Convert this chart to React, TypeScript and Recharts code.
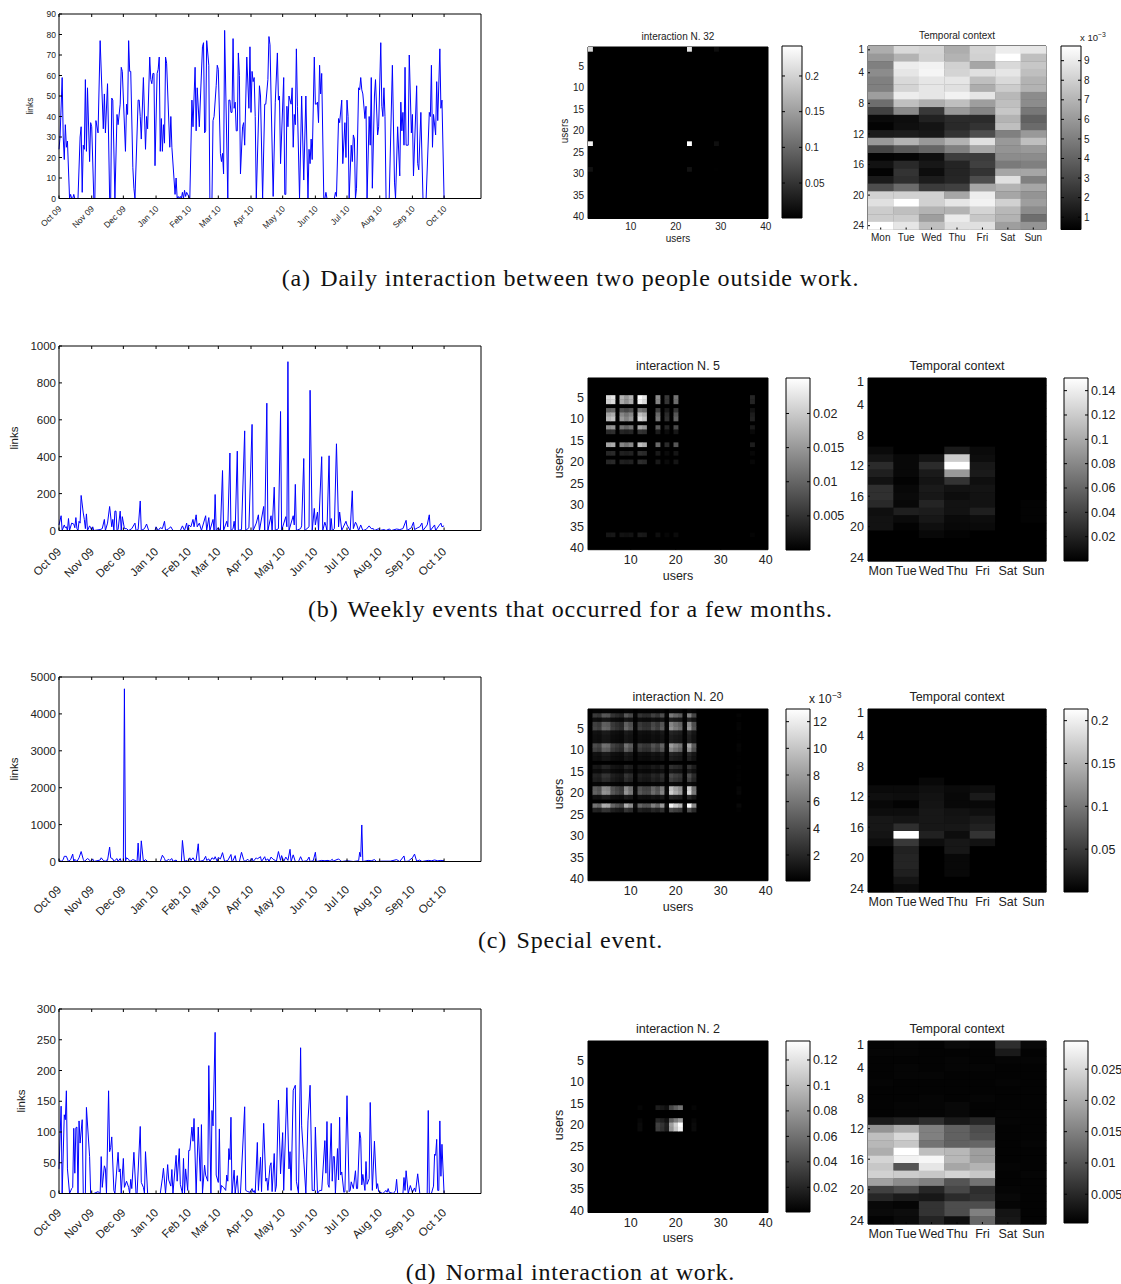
import { Bar, BarChart, CartesianGrid, Line, LineChart, Scatter, ScatterChart, XAxis, YAxis } from "recharts";

const monthDays = [0, 31, 61, 92, 123, 151, 182, 212, 243, 273, 304, 335, 365];
const monthLabels = ["Oct 09", "Nov 09", "Dec 09", "Jan 10", "Feb 10", "Mar 10", "Apr 10", "May 10", "Jun 10", "Jul 10", "Aug 10", "Sep 10", "Oct 10"];
const weekDays = ["Mon", "Tue", "Wed", "Thu", "Fri", "Sat", "Sun"];
const userTicksX = [10, 20, 30, 40];
const userTicksY = [5, 10, 15, 20, 25, 30, 35, 40];
const hourTicks = [1, 4, 8, 12, 16, 20, 24];

// [day, links]
const linksA = [[0,24],[1,30],[3,59],[4,30],[5,19],[6,36],[7,25],[8,28],[10,0],[11,2],[12,0],[13,0],[14,2],[15,0],[18,0],[20,30],[21,35],[22,3],[23,26],[24,24],[25,58],[26,23],[27,54],[29,18],[30,37],[31,35],[33,0],[34,0],[35,38],[37,32],[39,77],[42,34],[43,51],[44,32],[46,56],[47,30],[48,0],[49,0],[50,49],[51,48],[53,0],[55,41],[56,36],[58,46],[59,64],[60,62],[63,23],[64,46],[65,41],[66,77],[67,62],[68,62],[70,15],[71,5],[72,0],[75,48],[76,48],[77,40],[78,29],[80,59],[82,24],[83,40],[84,34],[86,69],[87,58],[88,56],[89,61],[90,61],[91,16],[93,61],[94,63],[95,69],[96,23],[97,39],[98,23],[99,36],[100,27],[101,69],[102,66],[105,25],[106,40],[107,25],[110,2],[111,10],[112,0],[113,1],[114,0],[115,1],[116,0],[117,3],[118,0],[119,4],[120,1],[121,3],[124,0],[126,48],[127,35],[129,64],[130,33],[131,54],[133,35],[136,74],[137,76],[138,32],[139,33],[140,77],[142,65],[143,0],[145,0],[146,38],[147,40],[149,55],[150,65],[151,63],[153,22],[154,18],[155,22],[156,12],[157,82],[160,0],[161,48],[162,48],[163,42],[164,42],[165,78],[166,44],[167,47],[168,33],[169,33],[170,71],[171,60],[172,12],[174,35],[175,37],[176,26],[178,69],[180,44],[181,74],[182,42],[183,62],[184,57],[185,59],[186,40],[187,0],[190,55],[191,50],[193,0],[195,46],[196,46],[198,58],[199,79],[200,75],[201,50],[203,1],[205,47],[207,71],[208,48],[209,50],[210,17],[213,59],[214,2],[215,2],[216,45],[217,35],[218,50],[220,46],[221,54],[222,25],[223,41],[224,36],[225,73],[226,45],[228,0],[230,50],[232,9],[234,50],[236,0],[237,24],[238,17],[239,29],[240,19],[242,69],[243,46],[244,46],[245,47],[246,37],[247,65],[248,51],[249,61],[251,0],[252,0],[253,3],[254,0],[261,0],[262,3],[263,1],[265,39],[266,37],[268,48],[269,17],[271,37],[272,20],[273,48],[274,40],[275,0],[277,26],[278,18],[279,31],[280,29],[281,0],[282,5],[284,54],[285,53],[286,59],[287,53],[288,51],[290,39],[291,45],[292,0],[294,40],[295,26],[296,59],[297,5],[299,50],[300,58],[302,31],[303,35],[305,76],[306,45],[307,40],[308,54],[309,40],[310,0],[313,0],[316,65],[318,8],[319,0],[321,35],[323,11],[324,47],[325,33],[326,42],[327,26],[328,64],[329,26],[331,26],[332,70],[334,32],[335,41],[336,11],[339,55],[340,17],[341,14],[343,42],[345,0],[348,0],[351,42],[352,40],[353,65],[354,25],[355,41],[357,31],[358,57],[359,38],[361,73],[362,44],[363,48],[365,0]];
const linksB = [[0,30],[2,80],[3,0],[5,30],[6,15],[7,20],[8,0],[9,65],[10,0],[12,40],[14,35],[15,15],[16,70],[17,10],[18,0],[19,50],[20,40],[21,190],[23,95],[24,60],[25,10],[26,90],[27,0],[29,25],[30,15],[31,0],[32,20],[33,0],[39,5],[41,10],[43,60],[44,0],[46,40],[48,130],[50,20],[51,60],[52,0],[53,105],[54,105],[55,0],[56,5],[58,105],[59,0],[60,75],[62,10],[64,10],[66,0],[69,10],[72,40],[73,0],[75,5],[77,160],[78,0],[81,10],[83,35],[85,0],[91,0],[92,20],[94,0],[96,15],[98,10],[100,50],[101,0],[104,10],[106,20],[108,0],[115,0],[117,25],[119,0],[121,40],[122,0],[123,30],[125,20],[127,60],[128,20],[130,85],[131,20],[133,40],[135,0],[139,80],[140,0],[142,70],[143,0],[146,60],[147,0],[148,195],[149,0],[151,15],[153,0],[155,325],[156,0],[159,50],[160,20],[162,420],[163,0],[165,10],[166,50],[167,0],[169,430],[170,0],[173,5],[176,540],[177,0],[180,15],[183,575],[184,0],[187,40],[189,85],[190,0],[194,130],[195,0],[197,690],[198,0],[201,80],[202,0],[204,235],[205,0],[208,10],[210,645],[211,0],[215,75],[216,20],[217,915],[218,0],[222,80],[223,30],[224,250],[225,0],[229,10],[230,25],[232,390],[233,0],[237,20],[238,760],[240,0],[242,120],[243,30],[245,100],[246,0],[249,400],[250,0],[252,45],[253,25],[254,0],[256,405],[257,0],[258,65],[259,0],[261,10],[263,470],[265,20],[266,100],[268,0],[272,50],[273,30],[276,0],[278,215],[279,10],[281,45],[282,35],[284,0],[286,30],[288,0],[291,5],[294,25],[296,10],[298,10],[299,0],[303,10],[304,0],[308,5],[310,0],[313,8],[315,0],[320,8],[323,5],[326,10],[329,55],[330,0],[334,15],[336,45],[337,5],[340,15],[342,20],[344,40],[345,0],[349,30],[351,85],[352,0],[356,30],[357,0],[360,25],[362,40],[363,20],[365,25]];
const linksC = [[0,50],[2,0],[4,50],[5,140],[7,140],[9,0],[11,50],[13,200],[14,0],[15,60],[17,0],[19,100],[21,270],[23,60],[24,0],[27,80],[29,40],[30,0],[32,70],[33,0],[39,40],[40,100],[42,30],[44,0],[45,40],[46,30],[48,390],[49,100],[51,70],[52,0],[55,80],[56,0],[58,80],[59,0],[61,0],[62,4680],[63,0],[64,100],[66,60],[67,0],[70,50],[72,30],[74,0],[75,500],[76,0],[77,0],[78,560],[80,0],[82,50],[84,0],[96,0],[98,170],[100,80],[101,0],[104,60],[105,30],[107,80],[108,0],[111,40],[112,0],[116,0],[117,570],[119,0],[121,30],[122,0],[124,100],[125,30],[127,100],[129,0],[130,40],[132,480],[133,0],[137,30],[139,140],[140,30],[142,70],[143,0],[145,100],[147,60],[148,130],[150,0],[151,110],[153,70],[155,240],[157,0],[160,30],[163,190],[164,0],[165,30],[167,160],[168,0],[171,0],[173,250],[175,50],[176,0],[179,60],[181,0],[183,90],[184,0],[187,100],[188,70],[191,130],[192,0],[195,130],[196,30],[198,70],[199,0],[201,120],[203,60],[205,30],[206,0],[208,270],[210,30],[211,160],[213,0],[215,120],[217,30],[219,330],[220,0],[222,180],[224,0],[227,0],[229,130],[231,0],[235,20],[237,120],[238,0],[241,20],[243,250],[244,0],[249,30],[252,20],[255,30],[257,10],[259,60],[260,10],[265,70],[266,40],[268,0],[273,20],[279,0],[284,20],[285,250],[286,130],[287,990],[288,0],[293,30],[296,20],[299,50],[301,0],[306,10],[314,10],[320,50],[323,0],[327,150],[328,0],[331,10],[335,100],[337,200],[339,10],[342,40],[344,0],[350,30],[353,20],[356,40],[359,20],[362,30],[365,20]];
const linksD = [[0,40],[2,142],[3,0],[5,128],[6,120],[7,167],[8,40],[10,0],[12,8],[13,10],[14,106],[15,33],[16,107],[17,108],[18,0],[19,118],[20,82],[22,120],[23,0],[25,0],[26,140],[29,60],[30,0],[33,0],[37,3],[39,0],[40,60],[41,10],[43,45],[44,40],[45,0],[47,167],[48,68],[49,75],[50,92],[52,5],[53,0],[56,67],[57,35],[58,40],[59,0],[61,57],[62,10],[64,20],[66,10],[67,0],[68,23],[69,8],[71,67],[73,0],[74,0],[77,109],[78,18],[80,10],[81,0],[82,68],[84,0],[96,0],[98,25],[99,41],[101,0],[103,47],[104,22],[106,12],[107,39],[108,0],[111,62],[112,20],[114,73],[115,15],[117,0],[118,57],[119,0],[120,40],[122,5],[123,70],[124,70],[126,108],[127,85],[128,122],[130,0],[132,108],[134,20],[135,112],[136,0],[138,46],[139,30],[141,20],[142,208],[144,0],[145,135],[146,110],[148,262],[149,30],[151,18],[152,105],[153,0],[154,13],[156,10],[158,5],[159,30],[160,20],[161,73],[162,55],[163,124],[164,0],[166,38],[167,0],[169,29],[170,0],[172,0],[176,141],[177,5],[179,3],[181,2],[183,8],[184,2],[185,5],[186,0],[188,83],[189,5],[191,59],[192,3],[194,114],[196,20],[197,25],[198,5],[200,45],[201,50],[202,3],[204,65],[205,3],[206,12],[208,152],[210,32],[212,99],[213,5],[216,172],[218,40],[219,68],[220,5],[222,168],[224,176],[225,20],[227,0],[229,237],[230,110],[232,55],[234,0],[236,118],[238,176],[240,5],[242,5],[243,108],[245,0],[247,5],[249,5],[252,86],[253,33],[254,117],[255,15],[256,10],[258,114],[259,20],[260,60],[261,60],[262,0],[264,73],[265,22],[266,124],[267,30],[268,35],[270,2],[271,3],[273,159],[275,3],[276,5],[277,19],[279,8],[281,37],[282,8],[283,8],[285,100],[286,90],[287,14],[288,31],[290,5],[291,52],[292,15],[294,24],[295,148],[297,5],[299,85],[301,8],[302,16],[303,3],[307,0],[310,5],[311,2],[312,8],[313,2],[317,0],[319,5],[320,23],[321,0],[326,0],[327,26],[328,5],[329,37],[331,0],[333,13],[335,2],[337,9],[338,3],[340,32],[342,0],[347,0],[349,0],[350,135],[351,0],[353,0],[355,12],[356,64],[357,62],[358,88],[359,5],[360,5],[361,118],[362,28],[363,80],[365,0]];

// user factors: [index, weight]
const usersA = { rows: [[1,0.9],[23,1],[29,0.07]], cols: [[1,0.95],[23,1],[29,0.06]] };
const usersB = {
  rows: [[5,1],[6,0.95],[8,0.45],[9,0.75],[10,0.85],[12,0.65],[13,0.2],[16,0.75],[18,0.18],[20,0.18],[37,0.1]],
  cols: [[5,0.85],[6,0.9],[8,0.7],[9,0.6],[10,0.7],[12,1],[13,0.9],[16,0.55],[18,0.22],[20,0.45],[37,0.15]],
};
const usersC = {
  rows: [[1,0.03],[2,0.5],[3,0.12],[4,0.55],[5,0.6],[6,0.15],[7,0.12],[8,0.12],[9,0.65],[10,0.55],[11,0.15],[12,0.12],[14,0.2],[15,0.1],[16,0.3],[17,0.25],[18,0.05],[19,0.8],[20,0.85],[21,0.15],[23,1],[24,0.3]],
  cols: [[2,0.45],[3,0.4],[4,0.68],[5,0.65],[6,0.4],[7,0.33],[8,0.27],[9,0.68],[10,0.55],[11,0.05],[12,0.4],[13,0.33],[14,0.33],[15,0.5],[16,0.4],[17,0.6],[18,0.05],[19,0.95],[20,0.8],[21,0.7],[22,0.05],[23,1],[24,0.55],[34,0.03]],
};
const usersD = {
  rows: [[16,0.45],[19,0.6],[20,1],[21,0.95]],
  cols: [[12,0.04],[16,0.25],[17,0.2],[18,0.12],[19,0.62],[20,0.82],[21,1],[24,0.04]],
};

// gray level in percent, hours 1-24 by Mon..Sun
const hoursA = [
  [68,85,83,68,83,93,90],[60,70,82,70,82,100,75],[50,93,95,82,65,85,78],[55,90,96,83,88,90,75],
  [50,85,90,90,75,85,70],[50,83,90,88,68,80,70],[62,93,90,95,90,72,55],[43,75,68,75,62,75,55],
  [26,54,22,60,52,78,47],[4,5,13,17,17,70,38],[1,6,8,16,20,75,42],[10,11,9,20,30,50,60],
  [60,70,60,70,88,60,75],[27,35,40,50,65,58,60],[1,2,6,24,23,55,55],[7,16,9,14,25,48,50],
  [1,20,5,14,20,65,65],[10,18,11,15,30,88,50],[30,42,23,25,65,70,65],[82,82,82,65,93,65,58],
  [88,100,82,90,95,82,62],[80,75,70,70,83,72,55],[80,80,62,92,78,70,43],[100,90,75,88,88,62,58],
];
const hoursB = [
  [0,0,0,0,0,0,0],[0,0,0,0,0,0,0],[0,0,0,0,0,0,0],[0,0,0,0,0,0,0],[0,0,0,0,0,0,0],[0,0,0,0,0,0,0],
  [0,0,0,0,0,0,0],[0,0,0,0,0,0,0],[0,0,0,0,0,0,0],[4,0,0,10,4,0,0],[8,3,8,80,5,0,0],[17,3,17,100,9,0,0],
  [12,3,10,60,10,0,0],[7,1,8,20,6,0,0],[19,3,10,7,8,0,0],[19,4,9,5,7,0,0],[16,3,14,7,7,0,1],[6,12,11,7,12,0,1],
  [7,4,9,4,5,0,1],[7,1,6,3,4,0,0],[0,0,3,1,0,0,0],[0,0,0,0,0,0,0],[0,0,0,0,0,0,0],[0,0,0,0,0,0,0],
];
const hoursC = [
  [0,0,0,0,0,0,0],[0,0,0,0,0,0,0],[0,0,0,0,0,0,0],[0,0,0,0,0,0,0],[0,0,0,0,0,0,0],[0,0,0,0,0,0,0],
  [0,0,0,0,0,0,0],[0,0,0,0,0,0,0],[0,0,0,0,0,0,0],[0,0,3,0,0,0,0],[4,4,6,4,5,0,0],[6,5,7,3,10,0,0],
  [3,1,8,3,3,0,0],[5,5,9,7,6,0,0],[9,8,9,8,10,0,0],[9,18,9,9,13,0,0],[8,100,13,5,20,0,0],[5,22,5,9,7,0,0],
  [0,13,0,9,0,0,0],[0,14,0,3,0,0,0],[0,14,0,3,0,0,0],[0,12,0,3,0,0,0],[0,8,0,0,0,0,0],[0,4,0,0,0,0,0],
];
const hoursD = [
  [1,2,1,4,2,18,3],[2,2,1,1,1,10,1],[1,1,1,2,1,2,2],[1,2,1,2,2,1,1],[1,2,2,1,1,1,1],[2,1,1,1,1,2,1],
  [1,1,1,1,1,1,1],[1,1,2,1,2,1,1],[1,2,2,3,1,1,1],[1,2,2,3,1,2,1],[10,13,18,10,15,2,1],[58,68,50,38,30,1,1],
  [75,85,50,38,32,1,1],[72,78,45,38,40,1,2],[68,100,75,72,62,1,1],[83,95,97,72,62,1,1],[78,33,90,65,70,2,1],[82,80,78,83,78,1,2],
  [63,55,50,33,45,1,1],[25,30,15,28,18,2,1],[15,10,9,17,20,3,1],[3,2,20,30,30,2,1],[4,5,20,30,50,8,1],[1,4,14,6,40,9,1],
];

const SANS = "'Liberation Sans', Arial, sans-serif";
const INK = "#222";

const gray = (level: number) => {
  const g = Math.round((Math.min(level, 100) / 100) * 255);
  return `rgb(${g},${g},${g})`;
};
const hourCells = (rows: number[][]) => rows.flatMap((r, i) => r.map((level, j) => ({ x: j + 1, y: i + 1, level })));
const userCells = (f: { rows: number[][]; cols: number[][] }) =>
  f.rows.flatMap(([y, rw]) => f.cols.map(([x, cw]) => ({ x, y, level: rw * cw * 100 })));

function Label({ x, y, size, children, rotate }: any) {
  return (
    <div
      style={{
        position: "absolute",
        left: x - 100,
        top: y - 10,
        width: 200,
        height: 20,
        lineHeight: "20px",
        textAlign: "center",
        fontFamily: SANS,
        fontSize: size,
        color: INK,
        transform: rotate ? "rotate(-90deg)" : undefined,
        whiteSpace: "nowrap",
      }}
    >
      {children}
    </div>
  );
}

function Caption({ y, tag, children }: any) {
  return (
    <div
      style={{
        position: "absolute",
        left: 0,
        width: 1141,
        top: y - 14,
        height: 28,
        lineHeight: "28px",
        textAlign: "center",
        fontFamily: "'Liberation Serif', serif",
        fontSize: 24,
        letterSpacing: 0.85,
        color: "#111",
        whiteSpace: "pre",
      }}
    >
      <span style={{ marginRight: 2.5 }}>{tag}</span> {children}
    </div>
  );
}

function inwardX(dir: number) {
  return ({ x, y }: any) => <line x1={x} x2={x} y1={y} y2={y + dir * 3} stroke="#000" />;
}
function inwardY(dir: number) {
  return ({ x, y }: any) => <line x1={x} x2={x + dir * 3} y1={y} y2={y} stroke="#000" />;
}

function LinksChart({ points, top, maxY, ticksY, size, dateDrop, labelX }: any) {
  const data = points.map(([day, links]: number[]) => ({ day, links }));
  const plotH = 184.5;
  const left = 59;
  const monthTick = ({ x, y, payload, index }: any) => (
    <g>
      <line x1={x} x2={x} y1={y} y2={y - 3} stroke="#000" />
      <text
        x={x + 3}
        y={y + dateDrop}
        textAnchor="end"
        fontSize={size}
        fontFamily={SANS}
        fill={INK}
        transform={`rotate(-45 ${x + 3} ${y + dateDrop})`}
      >
        {monthLabels[monthDays.indexOf(payload.value)] ?? index}
      </text>
    </g>
  );
  const valueTick = ({ x, y, payload }: any) => (
    <g>
      <line x1={x} x2={x + 3} y1={y} y2={y} stroke="#000" />
      <text x={x - 3} y={y + size * 0.36} textAnchor="end" fontSize={size} fontFamily={SANS} fill={INK}>
        {payload.value}
      </text>
    </g>
  );
  return (
    <>
      <div style={{ position: "absolute", left: 0, top: top - 8 }}>
        <LineChart width={490} height={plotH + 8 + 60} data={data} margin={{ top: 7, right: 8, bottom: 0, left: 0 }}>
          <XAxis xAxisId="b" dataKey="day" type="number" domain={[0, 400]} ticks={monthDays} interval={0} height={60} tickLine={false} tickSize={0} tickMargin={0} tick={monthTick} stroke="#000" />
          <XAxis xAxisId="t" dataKey="day" type="number" orientation="top" domain={[0, 400]} ticks={monthDays} interval={0} height={1} tickLine={false} tickSize={0} tickMargin={0} tick={inwardX(1)} stroke="#000" />
          <YAxis yAxisId="l" type="number" domain={[0, maxY]} ticks={ticksY} interval={0} width={left} tickLine={false} tickSize={0} tickMargin={0} tick={valueTick} stroke="#000" />
          <YAxis yAxisId="r" type="number" orientation="right" domain={[0, maxY]} ticks={ticksY} interval={0} width={1} tickLine={false} tickSize={0} tickMargin={0} tick={inwardY(-1)} stroke="#000" />
          <Line xAxisId="b" yAxisId="l" type="linear" dataKey="links" stroke="#0000ff" strokeWidth={1} dot={false} isAnimationActive={false} />
        </LineChart>
      </div>
      <Label x={labelX} y={top + plotH / 2} size={size} rotate>
        {"links"}
      </Label>
    </>
  );
}

function CellMap({ left, top, width, height, nx, ny, cells, ticksX, ticksY, namesX, size, chartTitle, axisName }: any) {
  const cw = width / nx;
  const ch = height / ny;
  const cell = (p: any) => (
    <rect x={p.cx - cw / 2} y={p.cy - ch / 2} width={cw + 0.4} height={ch + 0.4} fill={gray(p.payload.level)} />
  );
  const xTick = ({ x, y, payload }: any) => (
    <g>
      <line x1={x} x2={x} y1={y} y2={y - 2} stroke="#000" />
      <text x={x} y={y + size + 1.5} textAnchor="middle" fontSize={size} fontFamily={SANS} fill={INK}>
        {namesX ? namesX[payload.value - 1] : payload.value}
      </text>
    </g>
  );
  const yTick = ({ x, y, payload }: any) => (
    <g>
      <line x1={x} x2={x + 2} y1={y} y2={y} stroke="#000" />
      <text x={x - 4} y={y + size * 0.36} textAnchor="end" fontSize={size} fontFamily={SANS} fill={INK}>
        {payload.value}
      </text>
    </g>
  );
  return (
    <>
      <div style={{ position: "absolute", left: left - 40, top: top - 2 }}>
        <ScatterChart width={width + 52} height={height + 2 + 30} margin={{ top: 1, right: 11, bottom: 0, left: 0 }}>
          <CartesianGrid xAxisId="b" yAxisId="l" horizontal={false} vertical={false} fill="#000" />
          <XAxis xAxisId="b" dataKey="x" type="number" domain={[0.5, nx + 0.5]} ticks={ticksX} interval={0} height={30} tickLine={false} tickSize={0} tickMargin={0} tick={xTick} stroke="#000" />
          <XAxis xAxisId="t" dataKey="x" type="number" orientation="top" domain={[0.5, nx + 0.5]} ticks={ticksX} interval={0} height={1} tickLine={false} tickSize={0} tickMargin={0} tick={inwardX(1)} stroke="#000" />
          <YAxis yAxisId="l" dataKey="y" type="number" reversed domain={[0.5, ny + 0.5]} ticks={ticksY} interval={0} width={40} tickLine={false} tickSize={0} tickMargin={0} tick={yTick} stroke="#000" />
          <YAxis yAxisId="r" dataKey="y" type="number" reversed orientation="right" domain={[0.5, ny + 0.5]} ticks={ticksY} interval={0} width={1} tickLine={false} tickSize={0} tickMargin={0} tick={inwardY(-1)} stroke="#000" />
          <Scatter xAxisId="b" yAxisId="l" data={cells} shape={cell} isAnimationActive={false} />
        </ScatterChart>
      </div>
      <Label x={left + width / 2} y={top - size * 0.96} size={size}>
        {chartTitle}
      </Label>
      {axisName && (
        <>
          <Label x={left + width / 2} y={top + height + size * 2.05} size={size}>
            {"users"}
          </Label>
          <Label x={left - size * 2.35} y={top + height / 2 - 1} size={size} rotate>
            {"users"}
          </Label>
        </>
      )}
    </>
  );
}

function ColorBar({ id, left, top, width, height, min, max, ticks, size }: any) {
  const gradient = `gray-${id}`;
  const tick = ({ x, y, payload }: any) => (
    <g>
      <line x1={x} x2={x - 3} y1={y} y2={y} stroke="#000" />
      <text x={x + 3} y={y + size * 0.36} fontSize={size} fontFamily={SANS} fill={INK}>
        {payload.value}
      </text>
    </g>
  );
  return (
    <div style={{ position: "absolute", left: left - 1, top: top - 2 }}>
      <BarChart
        width={width + 62}
        height={height + 8}
        data={[{ name: "scale", range: [min, max] }]}
        barCategoryGap={0}
        margin={{ top: 1, right: 60, bottom: 5, left: 0 }}
      >
        <defs>
          <linearGradient id={gradient} x1="0" y1="0" x2="0" y2="1">
            <stop offset="0%" stopColor="#fff" />
            <stop offset="100%" stopColor="#000" />
          </linearGradient>
        </defs>
        <XAxis xAxisId="b" dataKey="name" height={1} tick={false} tickLine={false} stroke="#000" />
        <XAxis xAxisId="t" dataKey="name" orientation="top" height={1} tick={false} tickLine={false} stroke="#000" />
        <YAxis yAxisId="l" type="number" domain={[min, max]} ticks={ticks} interval={0} width={1} tickLine={false} tickSize={0} tickMargin={0} tick={inwardY(1)} stroke="#000" allowDataOverflow />
        <YAxis yAxisId="r" type="number" orientation="right" domain={[min, max]} ticks={ticks} interval={0} width={1} tickLine={false} tickSize={0} tickMargin={0} tick={tick} stroke="#000" allowDataOverflow />
        <Bar xAxisId="b" yAxisId="r" dataKey="range" fill={`url(#${gradient})`} isAnimationActive={false} />
      </BarChart>
    </div>
  );
}

function Exponent({ x, y, size }: any) {
  return (
    <div style={{ position: "absolute", left: x, top: y, fontFamily: SANS, fontSize: size, color: INK, whiteSpace: "nowrap", lineHeight: "14px" }}>
      x 10<sup style={{ fontSize: size * 0.72, lineHeight: 0 }}>−3</sup>
    </div>
  );
}

export default function App() {
  return (
    <div style={{ position: "absolute", left: 0, top: 0, width: 1121, height: 1284, overflow: "hidden", background: "#fff" }}>
      <LinksChart points={linksA} top={14} maxY={90} ticksY={[0, 10, 20, 30, 40, 50, 60, 70, 80, 90]} size={8.5} dateDrop={11} labelX={30} />
      <CellMap left={588} top={46.5} width={180} height={171.5} nx={40} ny={40} cells={userCells(usersA)} ticksX={userTicksX} ticksY={userTicksY} size={10} chartTitle="interaction N. 32" axisName />
      <ColorBar id="a1" left={782} top={46} width={20} height={172} min={0.001} max={0.242} ticks={[0.05, 0.1, 0.15, 0.2]} size={10} />
      <CellMap left={868} top={46} width={178} height={183.5} nx={7} ny={24} cells={hourCells(hoursA)} ticksX={[1, 2, 3, 4, 5, 6, 7]} ticksY={hourTicks} namesX={weekDays} size={10} chartTitle="Temporal context" />
      <ColorBar id="a2" left={1061} top={46} width={20} height={183.5} min={0.37} max={9.75} ticks={[1, 2, 3, 4, 5, 6, 7, 8, 9]} size={10} />
      <Exponent x={1080} y={31} size={9.5} />
      <Caption y={278} tag="(a)">{"Daily interaction between two people outside work."}</Caption>

      <LinksChart points={linksB} top={346} maxY={1000} ticksY={[0, 200, 400, 600, 800, 1000]} size={11.5} dateDrop={22} labelX={14} />
      <CellMap left={588} top={378.3} width={180} height={171.7} nx={40} ny={40} cells={userCells(usersB)} ticksX={userTicksX} ticksY={userTicksY} size={12.5} chartTitle="interaction N. 5" axisName />
      <ColorBar id="b1" left={785.5} top={378} width={24} height={172} min={0} max={0.0252} ticks={[0.005, 0.01, 0.015, 0.02]} size={12.5} />
      <CellMap left={868} top={378} width={178} height={183} nx={7} ny={24} cells={hourCells(hoursB)} ticksX={[1, 2, 3, 4, 5, 6, 7]} ticksY={hourTicks} namesX={weekDays} size={12.5} chartTitle="Temporal context" />
      <ColorBar id="b2" left={1064} top={378} width={24} height={183} min={0} max={0.1504} ticks={[0.02, 0.04, 0.06, 0.08, 0.1, 0.12, 0.14]} size={12.5} />
      <Caption y={609} tag="(b)">{"Weekly events that occurred for a few months."}</Caption>

      <LinksChart points={linksC} top={677} maxY={5000} ticksY={[0, 1000, 2000, 3000, 4000, 5000]} size={11.5} dateDrop={29} labelX={14} />
      <CellMap left={588} top={709.3} width={180} height={171.7} nx={40} ny={40} cells={userCells(usersC)} ticksX={userTicksX} ticksY={userTicksY} size={12.5} chartTitle="interaction N. 20" axisName />
      <ColorBar id="c1" left={785.5} top={709} width={24} height={172} min={0.05} max={12.95} ticks={[2, 4, 6, 8, 10, 12]} size={12.5} />
      <Exponent x={809} y={692} size={12} />
      <CellMap left={868} top={709} width={178} height={183} nx={7} ny={24} cells={hourCells(hoursC)} ticksX={[1, 2, 3, 4, 5, 6, 7]} ticksY={hourTicks} namesX={weekDays} size={12.5} chartTitle="Temporal context" />
      <ColorBar id="c2" left={1064} top={709} width={24} height={183} min={0} max={0.2136} ticks={[0.05, 0.1, 0.15, 0.2]} size={12.5} />
      <Caption y={940} tag="(c)">{"Special event."}</Caption>

      <LinksChart points={linksD} top={1008.5} maxY={300} ticksY={[0, 50, 100, 150, 200, 250, 300]} size={11.5} dateDrop={20} labelX={21} />
      <CellMap left={588} top={1040.5} width={180} height={171.5} nx={40} ny={40} cells={userCells(usersD)} ticksX={userTicksX} ticksY={userTicksY} size={12.5} chartTitle="interaction N. 2" axisName />
      <ColorBar id="d1" left={785.5} top={1041} width={24} height={171} min={0.0006} max={0.1349} ticks={[0.02, 0.04, 0.06, 0.08, 0.1, 0.12]} size={12.5} />
      <CellMap left={868} top={1040.5} width={178} height={183} nx={7} ny={24} cells={hourCells(hoursD)} ticksX={[1, 2, 3, 4, 5, 6, 7]} ticksY={hourTicks} namesX={weekDays} size={12.5} chartTitle="Temporal context" />
      <ColorBar id="d2" left={1064} top={1041} width={24} height={182} min={0.0004} max={0.0295} ticks={[0.005, 0.01, 0.015, 0.02, 0.025]} size={12.5} />
      <Caption y={1272} tag="(d)">{"Normal interaction at work."}</Caption>
    </div>
  );
}
